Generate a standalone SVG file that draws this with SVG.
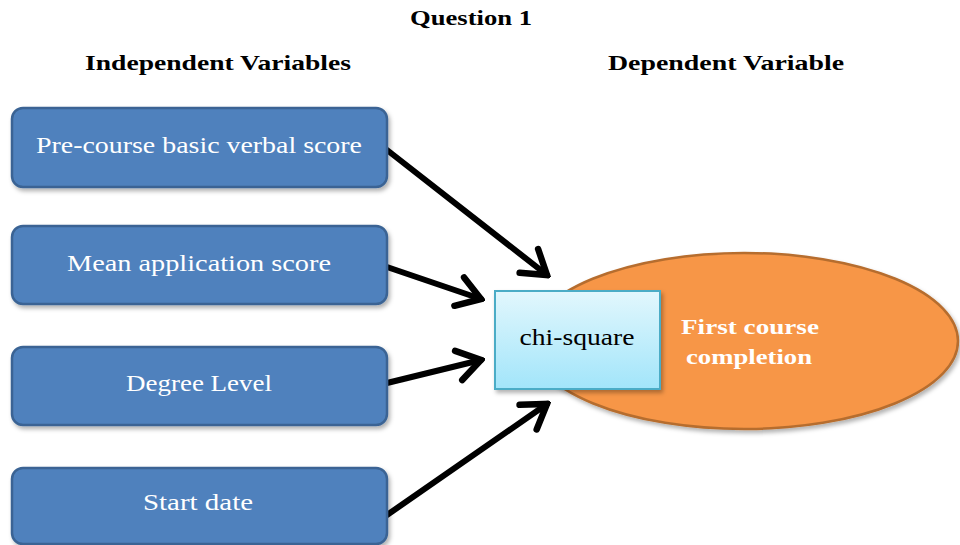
<svg xmlns="http://www.w3.org/2000/svg" width="960" height="545" viewBox="0 0 960 545">
<style>
.title{font-family:"Liberation Serif","Times New Roman",Times,"DejaVu Serif",serif;font-weight:bold;font-size:21px;fill:#000;text-anchor:middle}
.box{fill:#4f81bd;stroke:#3a6494;stroke-width:2.5}
.boxtxt{font-family:"Liberation Serif","Times New Roman",Times,"DejaVu Serif",serif;font-size:23px;fill:#fff;text-anchor:middle}
.ser{font-family:"Liberation Serif","Times New Roman",Times,"DejaVu Serif",serif}
.conn{stroke:#000;stroke-width:6;fill:none;stroke-linecap:round;marker-end:url(#arr)}
</style>
<defs>
<marker id="arr" markerUnits="userSpaceOnUse" viewBox="-30 -20 34 40" refX="0" refY="0" markerWidth="34" markerHeight="40" orient="auto">
<path d="M-23,-15 L0,0 L-23,15" fill="none" stroke="#000" stroke-width="6.5" stroke-linecap="round" stroke-linejoin="miter"/>
</marker>
<linearGradient id="cg" x1="0" y1="0" x2="0" y2="1">
<stop offset="0" stop-color="#e2f7fd"/>
<stop offset="1" stop-color="#a2e5fa"/>
</linearGradient>
<filter id="sh" x="-10%" y="-10%" width="125%" height="130%">
<feDropShadow dx="2" dy="3" stdDeviation="2" flood-color="#000" flood-opacity="0.3"/>
</filter>
</defs>
<text class="title" x="471" y="25" textLength="122" lengthAdjust="spacingAndGlyphs">Question 1</text>
<text class="title" x="218" y="70" textLength="266" lengthAdjust="spacingAndGlyphs">Independent Variables</text>
<text class="title" x="726" y="70" textLength="236" lengthAdjust="spacingAndGlyphs">Dependent Variable</text>
<g id="connectors">
<path class="conn" d="M387,150 L547,275"/>
<path class="conn" d="M387,267 L481,299"/>
<path class="conn" d="M387,383 L481,360"/>
<path class="conn" d="M387,515 L547,404"/>
</g>
<g id="outcome">
<ellipse cx="744" cy="341" rx="214" ry="88" fill="#f79646" stroke="#b66d2f" stroke-width="2.5" filter="url(#sh)"/>
<text class="ser" font-weight="bold" font-size="22" fill="#fff" text-anchor="middle" x="750" y="334" textLength="138" lengthAdjust="spacingAndGlyphs">First course</text>
<text class="ser" font-weight="bold" font-size="22" fill="#fff" text-anchor="middle" x="749" y="364" textLength="126" lengthAdjust="spacingAndGlyphs">completion</text>
</g>
<g id="chisquare">
<rect x="495" y="291" width="165" height="98" fill="url(#cg)" stroke="#4bacc6" stroke-width="2" filter="url(#sh)"/>
<text class="ser" font-size="23" fill="#000" text-anchor="middle" x="577" y="345" textLength="115" lengthAdjust="spacingAndGlyphs">chi-square</text>
</g>
<g id="node1">
<rect class="box" x="12" y="108" width="375" height="79" rx="11" filter="url(#sh)"/>
<text class="boxtxt" x="199" y="153" textLength="326" lengthAdjust="spacingAndGlyphs">Pre-course basic verbal score</text>
</g>
<g id="node2">
<rect class="box" x="12" y="226" width="375" height="78" rx="11" filter="url(#sh)"/>
<text class="boxtxt" x="199" y="271" textLength="264" lengthAdjust="spacingAndGlyphs">Mean application score</text>
</g>
<g id="node3">
<rect class="box" x="12" y="347" width="375" height="78" rx="11" filter="url(#sh)"/>
<text class="boxtxt" x="199" y="391" textLength="146" lengthAdjust="spacingAndGlyphs">Degree Level</text>
</g>
<g id="node4">
<rect class="box" x="12" y="468" width="375" height="76" rx="11" filter="url(#sh)"/>
<text class="boxtxt" x="198" y="510" textLength="110" lengthAdjust="spacingAndGlyphs">Start date</text>
</g>
</svg>
